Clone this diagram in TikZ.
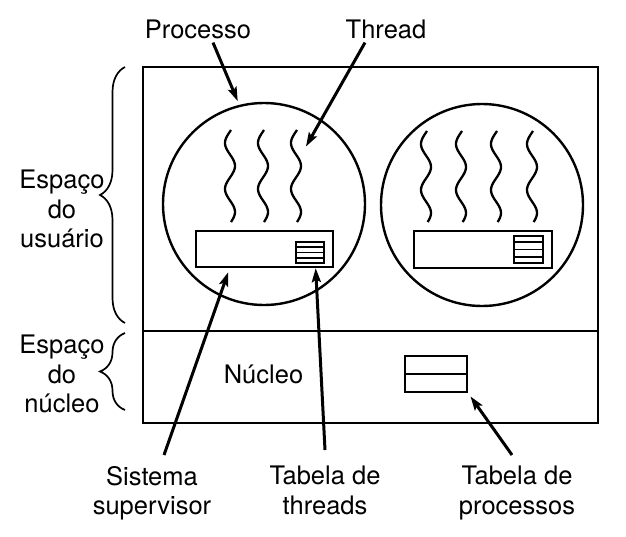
\documentclass[tikz,border=0pt]{standalone}
\usepackage{fontspec}
\setmainfont{TeX Gyre Heros}
\usetikzlibrary{arrows.meta,calc,decorations.pathreplacing}

\begin{document}
\begin{tikzpicture}[x=1pt, y=-1pt,
  lbl/.style={align=center, inner sep=0pt, font=\fontsize{25.5}{29.5}\selectfont},
  frame/.style={draw, rectangle, line width=2.9pt, inner sep=0pt},
  proc/.style={draw, circle, line width=2.4pt, minimum size=202pt, inner sep=0pt},
  sysbox/.style={draw, rectangle, line width=2.6pt, inner sep=0pt},
  tbl/.style={draw, rectangle, line width=2.3pt, inner sep=0pt},
  wave/.style={line width=2.3pt},
  arr/.style={-{Stealth[length=14pt,width=9pt,inset=2.5pt]}, line width=3pt, shorten >=4pt},
  brc/.style={decorate, decoration={brace, amplitude=25pt}, line width=1.7pt}]

\useasboundingbox (0,0) rectangle (626,536);

% Espaco do usuario / nucleo
\node[frame, minimum width=455pt, minimum height=264pt] (usr) at (370.5,199) {};
\node[frame, minimum width=455pt, minimum height=92pt] (krn) at (370.5,377) {};

% Processos
\node[proc] (proc1) at (264,204) {};
\node[proc] (proc2) at (482,205) {};

% Threads
\foreach \wx in {230,263,296}
  \draw[wave] plot[smooth, domain=0:92, samples=47] ({\wx-5*sin(7.83*(\x-1.5))}, {130+\x});
\foreach \wx in {426,461,496,532}
  \draw[wave] plot[smooth, domain=0:91, samples=47] ({\wx-5*sin(7.83*(\x-1.5))}, {131+\x});
\coordinate (thr) at (304,150);

% Sistema supervisor e tabelas
\node[sysbox, minimum width=137pt, minimum height=36pt] (sup1) at (264.5,249) {};
\node[tbl, minimum width=28pt, minimum height=21pt] (tab1) at (310,252.5) {};
\node[sysbox, minimum width=138pt, minimum height=37pt] (sup2) at (483,249.5) {};
\node[tbl, minimum width=29pt, minimum height=27pt] (tab2) at (528.5,249.5) {};
\node[tbl, minimum width=62pt, minimum height=36pt] (ptab) at (436,374) {};

\foreach \t in {tab1,tab2}
  \foreach \k in {1,2,3}
    \draw[line width=1.9pt] ($(\t.north west)!\k/4!(\t.south west)$) -- ($(\t.north east)!\k/4!(\t.south east)$);
\draw[line width=1.9pt] (ptab.west) -- (ptab.east);

% Rotulos
\node[lbl, anchor=base] (lproc) at (198,38) {Processo};
\node[lbl, anchor=base] (lthr) at (386,38) {Thread};
\node[lbl, anchor=north] (lusr) at (62,170) {Espaço\\do\\usuário};
\node[lbl, anchor=north] (lkrn) at (62,335) {Espaço\\do\\núcleo};
\node[lbl, anchor=base] (lnuc) at (263.5,383) {Núcleo};
\node[lbl, anchor=north] (lsup) at (152,466) {Sistema\\supervisor};
\node[lbl, anchor=north] (ltht) at (325,466) {Tabela de\\threads};
\node[lbl, anchor=north] (lptb) at (517,466) {Tabela de\\processos};

% Chaves
\draw[brc] (125,323) -- (125,67);
\draw[brc] (125,410) -- (125,333);

% Setas
\draw[arr] ($(lproc.south)+(15,4)$) -- (proc1.104);
\draw[arr] ($(lthr.south)+(-21,4)$) -- (thr);
\draw[arr] ($(lsup.north)+(12,-11)$) -- ($(sup1.south west)!0.25!(sup1.south east)$);
\draw[arr] ($(ltht.north)+(0,-16)$) -- ($(tab1.south west)!0.68!(tab1.south east)$);
\draw[arr] ($(lptb.north)+(-5,-11)$) -- (ptab.south east);

\end{tikzpicture}
\end{document}
